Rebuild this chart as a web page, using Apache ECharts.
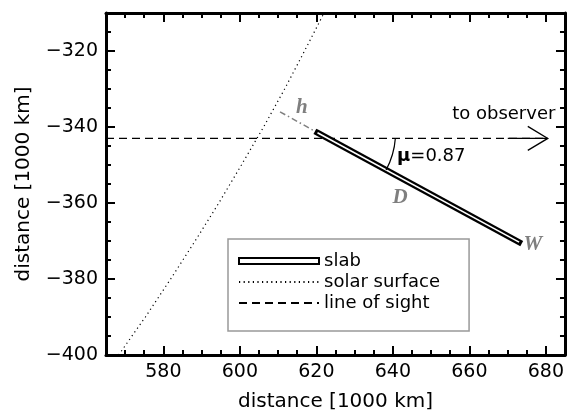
<!DOCTYPE html>
<html><head><meta charset="utf-8">
<script src="https://cdn.jsdelivr.net/npm/echarts@6/dist/echarts.min.js"></script>
<style>html,body{margin:0;padding:0;background:#fff}#c{width:567px;height:417px}</style>
</head><body><div id="c"></div>
<script>
// ---- data ----
const xMajorTicks = [580, 600, 620, 640, 660, 680];
const yMajorTicks = [-400, -380, -360, -340, -320];
const xMinorTicks = [565, 570, 575, 580, 585, 590, 595, 600, 605, 610, 615, 620, 625, 630, 635, 640, 645, 650, 655, 660, 665, 670, 675, 680, 685];
const yMinorTicks = [-400, -395, -390, -385, -380, -375, -370, -365, -360, -355, -350, -345, -340, -335, -330, -325, -320, -315, -310];

const solarX = [568.3, 575.3, 581.9, 588.3, 594.5, 600.4, 606.2, 611.7, 616.9, 622.0];
const solarY = [-400, -390, -380, -370, -360, -350, -340, -330, -320, -310];
const sightX = [565, 680.5];
const sightY = [-343, -343];
const slabX = [620.3, 673.0];
const slabY = [-341.5, -370.3];
const hLineX = [610.5, 620.3];
const hLineY = [-336.0, -341.5];
const arrowTip = [680.5, -343];
const arcRadius = 20.4;

const annoText = ['h', 'D', 'W', 'to observer', '{m|μ}=0.87'];
const annoX = [616.2, 641.9, 676.6, 655.5, 641.1];
const annoY = [-334.9, -358.7, -371.0, -336.7, -347.7];

// ---- styles ----
const FF = 'DejaVu Sans';
const grayLetter = {fontSize: 21, fontFamily: 'Liberation Serif', fontWeight: 'bold', fontStyle: 'italic', fill: '#7f7f7f', align: 'center', verticalAlign: 'middle'};
const annoStyles = [
  grayLetter, grayLetter, grayLetter,
  {fontSize: 18, fontFamily: FF, fill: '#000', align: 'left', verticalAlign: 'middle'},
  {fontSize: 18, fontFamily: FF, fill: '#000', align: 'left', verticalAlign: 'middle',
   rich: {m: {fontSize: 18, fontFamily: FF, fontWeight: 'bold', fill: '#000'}}}
];

const zip = (xs, ys) => xs.map((x, i) => [x, ys[i]]);
const minus = v => String(v).replace('-', '\u2212');

function xAxisDef(pos, major) {
  const a = {
    type: 'value', position: pos, min: 565, max: 685,
    splitLine: {show: false},
    axisLine: {show: major, onZero: false, lineStyle: {color: '#000', width: 3}},
    axisTick: {show: true, inside: true, length: major ? 9 : 5,
      lineStyle: {color: '#000', width: 2},
      customValues: major ? xMajorTicks : xMinorTicks},
    axisLabel: {show: false}
  };
  if (major && pos === 'bottom') {
    a.axisLabel = {show: true, customValues: xMajorTicks, fontSize: 19, fontFamily: FF, color: '#000', margin: 8, formatter: minus};
    a.name = 'distance [1000 km]';
    a.nameLocation = 'middle';
    a.nameGap = 37;
    a.nameTextStyle = {fontSize: 20, fontFamily: FF, color: '#000'};
  }
  return a;
}
function yAxisDef(pos, major) {
  const a = {
    type: 'value', position: pos, min: -400, max: -310,
    splitLine: {show: false},
    axisLine: {show: major, onZero: false, lineStyle: {color: '#000', width: 3}},
    axisTick: {show: true, inside: true, length: major ? 9 : 5,
      lineStyle: {color: '#000', width: 2},
      customValues: major ? yMajorTicks : yMinorTicks},
    axisLabel: {show: false}
  };
  if (major && pos === 'left') {
    a.axisLabel = {show: true, customValues: yMajorTicks, fontSize: 19, fontFamily: FF, color: '#000', margin: 8, formatter: minus};
    a.name = 'distance [1000 km]';
    a.nameLocation = 'middle';
    a.nameGap = 72;
    a.nameTextStyle = {fontSize: 20, fontFamily: FF, color: '#000'};
  }
  return a;
}

const chart = echarts.init(document.getElementById('c'), null, {renderer: 'canvas'});
chart.setOption({
  animation: false,
  backgroundColor: '#fff',
  grid: {left: 106, right: 2, top: 13, bottom: 60, containLabel: false},
  xAxis: [xAxisDef('bottom', true), xAxisDef('top', true), xAxisDef('bottom', false), xAxisDef('top', false)],
  yAxis: [yAxisDef('left', true), yAxisDef('right', true), yAxisDef('left', false), yAxisDef('right', false)],
  legend: {
    orient: 'vertical', left: 228, top: 239,
    padding: [13, 29, 19, 10], itemGap: 3, itemWidth: 80, itemHeight: 6,
    borderColor: '#999', borderWidth: 1.5, backgroundColor: '#fff',
    selectedMode: false,
    textStyle: {fontSize: 18, fontFamily: FF, color: '#000'},
    data: [
      {name: 'slab', icon: 'rect', itemStyle: {color: '#fff', borderColor: '#000', borderWidth: 2}},
      {name: 'solar surface', itemStyle: {opacity: 0}},
      {name: 'line of sight', itemStyle: {opacity: 0}}
    ]
  },
  series: [
    {name: 'solar surface', type: 'line', data: zip(solarX, solarY), symbol: 'none', silent: true,
     lineStyle: {color: '#000', width: 1.2, type: [1.2, 3.4]}, z: 2},
    {name: 'line of sight', type: 'line', data: zip(sightX, sightY), symbol: 'none', silent: true,
     lineStyle: {color: '#000', width: 1.3, type: [8, 5]}, z: 3},
    {name: 'h', type: 'line', data: zip(hLineX, hLineY), symbol: 'none', silent: true,
     lineStyle: {color: '#808080', width: 1.5, type: [6, 3, 1.5, 3]}, z: 3},
    {name: 'slab', type: 'line', data: zip(slabX, slabY), symbol: 'none', silent: true,
     lineStyle: {color: '#000', width: 6, cap: 'square'}, z: 4},
    {name: 'slabCore', type: 'line', data: zip(slabX, slabY), symbol: 'none', silent: true,
     lineStyle: {color: '#fff', width: 1.6}, z: 5},
    {name: 'angle', type: 'custom', silent: true, z: 6,
     data: [[slabX[0], slabY[0]]],
     renderItem: (p, api) => {
       const c = api.coord([api.value(0), api.value(1)]);
       const r = api.coord([api.value(0) + arcRadius, api.value(1)])[0] - c[0];
       const e = api.coord([slabX[1], slabY[1]]);
       const endA = Math.atan2(e[1] - c[1], e[0] - c[0]);
       const los = api.coord([sightX[0], sightY[0]]);
       const startA = Math.asin(Math.max(-1, Math.min(1, (los[1] - c[1]) / r)));
       return {type: 'arc', shape: {cx: c[0], cy: c[1], r: r, startAngle: startA, endAngle: endA, clockwise: true},
               style: {stroke: '#000', fill: null, lineWidth: 1.2}};
     }},
    {name: 'arrow', type: 'custom', silent: true, z: 6,
     data: [arrowTip],
     renderItem: (p, api) => {
       const t = api.coord([api.value(0), api.value(1)]);
       return {type: 'group', children: [
         {type: 'polyline', shape: {points: [[t[0] - 20, t[1] - 12], [t[0], t[1]], [t[0] - 20, t[1] + 12]]},
          style: {stroke: '#000', fill: null, lineWidth: 1.3}},
         {type: 'line', shape: {x1: t[0] - 40, y1: t[1], x2: t[0], y2: t[1]},
          style: {stroke: '#000', lineWidth: 1.3}}
       ]};
     }},
    {name: 'labels', type: 'custom', silent: true, z: 7,
     data: zip(annoX, annoY),
     renderItem: (p, api) => {
       const pt = api.coord([api.value(0), api.value(1)]);
       const i = p.dataIndex;
       return {type: 'text', x: pt[0], y: pt[1], style: Object.assign({text: annoText[i]}, annoStyles[i])};
     }}
  ]
});
</script>
</body></html>
